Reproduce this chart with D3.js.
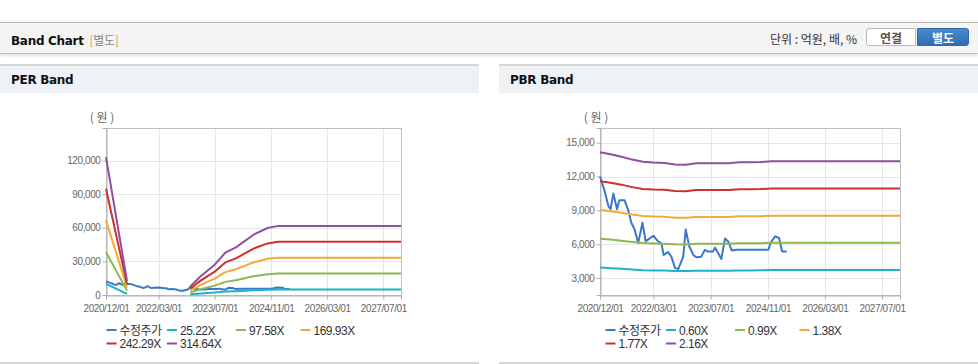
<!DOCTYPE html>
<html>
<head>
<meta charset="utf-8">
<script src="https://cdn.jsdelivr.net/npm/d3@7"></script>
<style>
  body { margin: 0; width: 978px; height: 364px; background: #fff; position: relative; overflow: hidden;
         font-family: "Liberation Sans", "Noto Sans CJK KR", sans-serif; }
  #top { position: absolute; left: 0; top: 22px; width: 978px; height: 30px; background: #f4f4f4;
         border-top: 1px solid #b4b4b4; border-bottom: 1px solid #c4c4c4; box-shadow: 0 2px 3px rgba(0,0,0,0.12); }
  #top .title { position: absolute; left: 11px; top: 8px; font-family: "DejaVu Sans", "Noto Sans CJK KR", sans-serif;
                font-weight: bold; font-size: 12px; color: #111; letter-spacing: -0.3px; }
  #top .title span { font-weight: normal; color: #888; margin-left: 2px; font-family: "Noto Sans CJK KR", sans-serif; font-size: 12px; }
  #top .title span b { font-weight: normal; color: #d49a5a; }
  #unit { position: absolute; left: 770px; top: 7px; font-size: 12px; color: #333; font-family: "Noto Sans CJK KR", sans-serif; }
  .btn { position: absolute; top: 5px; height: 18px; width: 50px; line-height: 18px; text-align: center; font-weight: bold;
         font-size: 12px; font-family: "Noto Sans CJK KR", sans-serif; box-sizing: border-box; }
  #b1 { left: 866px; background: #fff; color: #555; border: 1px solid #b8b8b8; border-radius: 3px 0 0 3px; }
  #b2 { left: 917px; width: 52px; background: linear-gradient(#4a8ad0, #2f6db0); color: #fff; border: 1px solid #2e6aa8; border-radius: 0 3px 3px 0; }
  .panel { position: absolute; top: 64px; width: 479px; height: 298px; border-bottom: 2px solid #d6d6d6; }
  .ph { height: 27px; background: #eef2f7; border-top: 2px solid #d6d6d6; position: relative; }
  .ph div { position: absolute; left: 11px; top: 7px; font-family: "DejaVu Sans", sans-serif; font-weight: bold;
            font-size: 12px; color: #111; letter-spacing: -0.3px; }
  #charts { position: absolute; left: 0; top: 0; }
</style>
</head>
<body>
<div id="top">
  <div class="title">Band Chart <span><b>[</b>별도<b>]</b></span></div>
  <div id="unit">단위 : 억원, 배, %</div>
  <div class="btn" id="b1">연결</div>
  <div class="btn" id="b2">별도</div>
</div>
<div class="panel" style="left:0"><div class="ph"><div>PER Band</div></div></div>
<div class="panel" style="left:499px"><div class="ph"><div>PBR Band</div></div></div>
<svg id="charts" width="978" height="364"></svg>
<script>
// x axis ticks shared by both charts
const xStart = "2020-12-01", xEnd = "2027-12-01";
const tickDates = ["2020-12-01", "2022-03-01", "2023-07-01", "2024-11-01", "2026-03-01", "2027-07-01"];
const tickLabels = ["2020/12/01", "2022/03/01", "2023/07/01", "2024/11/01", "2026/03/01", "2027/07/01"];

// 수정주가 (adjusted price)
const priceDates = ["2020-12-01", "2021-01-07", "2021-02-10", "2021-03-01", "2021-03-25", "2021-04-25", "2021-05-15",
  "2021-06-28", "2021-07-28", "2021-08-25", "2021-09-22", "2021-10-22", "2021-11-28", "2021-12-25", "2022-02-28",
  "2022-04-10", "2022-05-07", "2022-05-28", "2022-07-04", "2022-08-01", "2022-09-01", "2022-09-28", "2022-11-10",
  "2022-12-01", "2023-01-01", "2023-02-04", "2023-03-01", "2023-04-13", "2023-05-13", "2023-06-10", "2023-07-22",
  "2023-08-07", "2023-09-04", "2023-10-01", "2023-11-01", "2023-11-28", "2023-12-28", "2024-02-10", "2024-11-04",
  "2024-11-25", "2025-01-01", "2025-02-04", "2025-03-01", "2025-04-10"];
const priceValues = [12000, 10800, 9400, 9100, 10500, 9100, 9900,
  9900, 9050, 7900, 7300, 6100, 7900, 6250, 6750,
  6250, 6100, 5050, 5300, 4900, 3900, 3800, 4900,
  7300, 5800, 5050, 4850, 4900, 5500, 5350, 5350,
  5700, 5200, 4700, 6500, 6250, 5450, 5500, 5500,
  6150, 6700, 6550, 5350, 5350];

// PER band lines (null = no band)
const perDates = ["2020-12-01", "2021-06-01", "2022-06-01", "2022-12-01", "2023-03-01", "2023-07-01", "2023-10-01",
  "2024-01-01", "2024-06-01", "2024-10-01", "2025-01-01", "2027-12-01"];
const perNames = ["25.22X", "97.58X", "169.93X", "242.29X", "314.64X"];
const per25 = [9860, 1010, null, 600, 1340, 2170, 3030, 3400, 4310, 4790, 4940, 4940];
const per97 = [38150, 3900, null, 2340, 5170, 8390, 11710, 13170, 16690, 18540, 19130, 19130];
const per169 = [66440, 6800, null, 4080, 9010, 14610, 20390, 22940, 29060, 32290, 33310, 33310];
const per242 = [94740, 9690, null, 5820, 12840, 20840, 29080, 32710, 41430, 46040, 47490, 47490];
const per314 = [123020, 12590, null, 7550, 16680, 27060, 37760, 42480, 53800, 59780, 61670, 61670];
const perTicks = [0, 30000, 60000, 90000, 120000];

// PBR band lines
const pbrDates = ["2020-12-01", "2021-03-01", "2021-06-01", "2021-09-01", "2021-12-01", "2022-03-01", "2022-06-01",
  "2022-09-01", "2022-12-01", "2023-03-01", "2023-06-01", "2023-09-01", "2023-12-01", "2024-03-01", "2024-06-01",
  "2024-09-01", "2024-12-01", "2027-12-01"];
const pbrNames = ["0.60X", "0.99X", "1.38X", "1.77X", "2.16X"];
const pbr060 = [3930, 3880, 3820, 3750, 3700, 3680, 3670, 3630, 3620, 3660, 3660, 3660, 3660, 3680, 3680, 3690, 3710, 3710];
const pbr099 = [6490, 6410, 6310, 6190, 6100, 6070, 6050, 5990, 5980, 6040, 6040, 6040, 6040, 6080, 6080, 6090, 6120, 6120];
const pbr138 = [9040, 8930, 8790, 8630, 8500, 8460, 8430, 8350, 8340, 8420, 8420, 8420, 8420, 8470, 8470, 8490, 8530, 8530];
const pbr177 = [11590, 11450, 11280, 11060, 10900, 10850, 10820, 10710, 10690, 10800, 10800, 10800, 10800, 10870, 10870, 10890, 10940, 10940];
const pbr216 = [14150, 13980, 13760, 13500, 13310, 13240, 13200, 13070, 13050, 13180, 13180, 13180, 13180, 13260, 13260, 13280, 13350, 13350];
const pbrTicks = [3000, 6000, 9000, 12000, 15000];

const priceName = "수정주가";
const colors = ["#3a78cc", "#1fb1c9", "#8cb84f", "#f4a93a", "#cf2f2a", "#8e4f9f"];

const parse = d3.timeParse("%Y-%m-%d");
const svg = d3.select("#charts");

function drawBand(opt) {
  const g = svg.append("g");
  const x = d3.scaleTime().domain([parse(xStart), parse(xEnd)]).range([opt.left, opt.right]);
  const y = d3.scaleLinear().domain(opt.yDomain).range([opt.bottom, opt.top]);

  // grid
  g.selectAll("line.gy").data(opt.yTicks).join("line")
    .attr("x1", opt.left).attr("x2", opt.right)
    .attr("y1", d => Math.round(y(d)) + 0.5).attr("y2", d => Math.round(y(d)) + 0.5)
    .attr("stroke", "#e6e6e6");
  g.selectAll("line.gx").data(tickDates).join("line")
    .attr("x1", d => Math.round(x(parse(d))) + 0.5).attr("x2", d => Math.round(x(parse(d))) + 0.5)
    .attr("y1", opt.top).attr("y2", opt.bottom)
    .attr("stroke", "#e6e6e6");

  // border
  g.append("rect")
    .attr("x", opt.left + 0.5).attr("y", opt.top + 0.5)
    .attr("width", opt.right - opt.left).attr("height", opt.bottom - opt.top)
    .attr("fill", "none").attr("stroke", "#c0c0c0");

  // axes
  const yAxis = d3.axisLeft(y).tickValues(opt.yTicks).tickSize(4).tickFormat(d3.format(","));
  const ya = g.append("g").attr("transform", `translate(${opt.left + 0.5},0)`).call(yAxis);
  const xAxis = d3.axisBottom(x).tickValues(tickDates.map(parse)).tickSize(4)
    .tickFormat((d, i) => tickLabels[i]);
  const xa = g.append("g").attr("transform", `translate(0,${opt.bottom + 0.5})`).call(xAxis);
  [ya, xa].forEach(a => {
    a.select(".domain").attr("stroke", "#b0b0b0");
    a.selectAll(".tick line").attr("stroke", "#b0b0b0");
    a.selectAll("text").attr("fill", "#666").style("font-family", "'Liberation Sans', sans-serif")
      .style("font-size", "10px").style("letter-spacing", "-0.4px");
  });
  ya.selectAll("text").attr("x", -6);
  xa.selectAll("text").attr("y", 9);

  g.append("text").attr("x", opt.left - 4).attr("y", 122).attr("text-anchor", "middle")
    .attr("fill", "#666").style("font-size", "12px").style("font-family", "'Noto Sans CJK KR', sans-serif")
    .text("( 원 )");

  // series
  const line = d3.line().defined(d => d[1] != null)
    .x(d => x(d[0])).y(d => y(d[1]));
  const series = [{ name: priceName, pts: priceDates.map((d, i) => [parse(d), priceValues[i]]) }]
    .concat(opt.bands.map((b, i) => ({ name: opt.names[i], pts: opt.dates.map((d, j) => [parse(d), b[j]]) })));

  g.selectAll("path.s").data(series).join("path")
    .attr("d", d => line(d.pts))
    .attr("fill", "none")
    .attr("stroke", (d, i) => colors[i])
    .attr("stroke-width", 2)
    .attr("stroke-linejoin", "round");

  // legend, aligned columns
  const colX = [0, 60.5, 129.5, 194];
  const lg = g.append("g");
  series.forEach((s, i) => {
    const lx = opt.legendX + colX[i % 4];
    const ly = i < 4 ? 330 : 343.5;
    lg.append("line").attr("x1", lx).attr("x2", lx + 10).attr("y1", ly).attr("y2", ly)
      .attr("stroke", colors[i]).attr("stroke-width", 2);
    lg.append("text").attr("x", lx + 13).attr("y", ly + 4.5)
      .attr("fill", "#333").style("font-size", "12px").style("letter-spacing", "-0.5px")
      .style("font-family", "'Liberation Sans', 'Noto Sans CJK KR', sans-serif")
      .text(s.name);
  });
}

drawBand({
  left: 106, right: 401, top: 128, bottom: 295,
  yDomain: [0, 149000], yTicks: perTicks,
  dates: perDates, names: perNames, bands: [per25, per97, per169, per242, per314],
  legendX: 106.5
});

drawBand({
  left: 600, right: 900, top: 128, bottom: 295,
  yDomain: [1500, 16300], yTicks: pbrTicks,
  dates: pbrDates, names: pbrNames, bands: [pbr060, pbr099, pbr138, pbr177, pbr216],
  legendX: 605.5
});
</script>
</body>
</html>
